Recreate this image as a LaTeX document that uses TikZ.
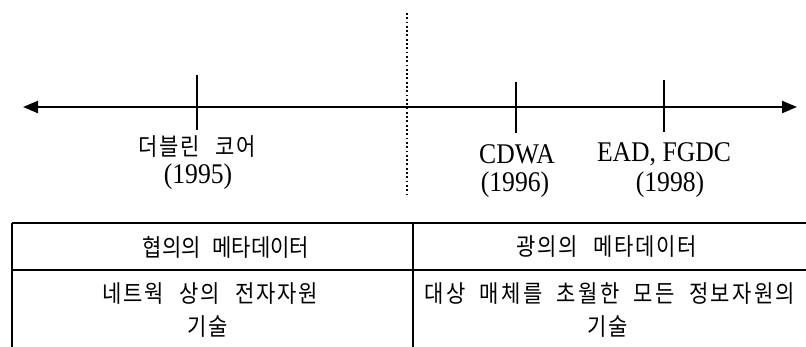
\documentclass[tikz,border=0pt]{standalone}
\usepackage{fontspec}
\setmainfont{Liberation Serif}
\newfontfamily\krfont[WordSpace=2.5,FakeStretch=0.875,LetterSpace=7]{Noto Sans CJK KR}
\newfontfamily\krtight[WordSpace=2.5,FakeStretch=0.875]{Noto Sans CJK KR}
\newfontfamily\krwide[WordSpace=2.0,FakeStretch=0.875,LetterSpace=10]{Noto Sans CJK KR}
\newfontfamily\latfont[FakeStretch=0.9]{Liberation Serif}
\usetikzlibrary{arrows.meta}
\tikzset{
  krtext/.style={font=\krfont\fontsize{24}{28}\selectfont, inner sep=0pt},
  krtighttext/.style={font=\krtight\fontsize{24}{28}\selectfont, inner sep=0pt},
  krwidetext/.style={font=\krwide\fontsize{24}{28}\selectfont, inner sep=0pt},
  lattext/.style={font=\latfont\fontsize{28.5}{32}\selectfont, inner sep=0pt},
  axisline/.style={line width=2.2pt, {Triangle[length=15pt,width=12pt]}-{Triangle[length=15pt,width=12pt]}},
  tickline/.style={line width=1.1pt},
  tableline/.style={line width=1.1pt},
  dottedline/.style={line width=1.8pt, dash pattern=on 1.8pt off 2.5pt},
}
\begin{document}
\begin{tikzpicture}[x=1pt,y=-1pt]
\useasboundingbox (0,0) rectangle (806,347);
% timeline
\coordinate (axL) at (23,107);
\coordinate (axR) at (797,107);
\draw[axisline] (axL) -- (axR);
% ticks
\coordinate (t1a) at (197,75);  \coordinate (t1b) at (197,130);
\coordinate (t2a) at (516,82);  \coordinate (t2b) at (516,133);
\coordinate (t3a) at (664,80);  \coordinate (t3b) at (664,132);
\draw[tickline] (t1a) -- (t1b);
\draw[tickline] (t2a) -- (t2b);
\draw[tickline] (t3a) -- (t3b);
% dotted divider
\coordinate (dA) at (407,13);
\coordinate (dB) at (407,197);
\draw[dottedline] (dA) -- (dB);
% labels
\node[krtext] (dub) at (197,147) {더블린 코어};
\node[lattext] (y95) at (198,176.5) {(1995)};
\node[lattext] (cdwa) at (517,154) {CDWA};
\node[lattext] (y96) at (515,184.5) {(1996)};
\node[lattext] (ead) at (664,154) {EAD, FGDC};
\node[lattext] (y98) at (670,184.5) {(1998)};
% table
\coordinate (tl) at (12,223);
\coordinate (tr) at (806,223);
\coordinate (ml) at (12,270);
\coordinate (mr) at (806,270);
\coordinate (bl) at (12,347);
\coordinate (dt) at (413,223);
\coordinate (db) at (413,347);
\draw[tableline] (tl) -- (tr);
\draw[tableline] (ml) -- (mr);
\draw[tableline] (tl) -- (bl);
\draw[tableline] (dt) -- (db);
\node[krtighttext] (h1) at (226,247) {협의의 메타데이터};
\node[krtext] (h2) at (607,247) {광의의 메타데이터};
\node[krtext] (r1) at (210,294) {네트웍 상의 전자자원};
\node[krtext] (r1b) at (208,327) {기술};
\node[krwidetext] (r2) at (610,294) {대상 매체를 초월한 모든 정보자원의};
\node[krtext] (r2b) at (608,327) {기술};
\end{tikzpicture}
\end{document}
